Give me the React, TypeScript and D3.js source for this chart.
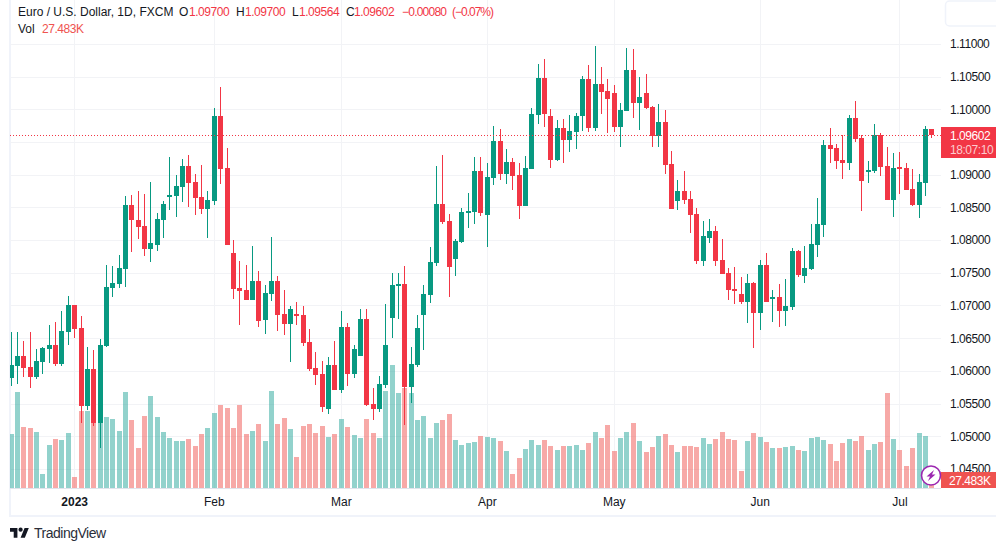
import { useEffect, useRef } from "react";
import * as d3 from "d3";

const WIDTH = 996;
const HEIGHT = 551;
const FONT = "'Liberation Sans', sans-serif";
const UP = "#089981";
const DOWN = "#f23645";
const GRID = "#f2f3f6";
const TEXT = "#131722";
const NUM_SPACING = -0.45;

const opens = [
  1.05892, 1.06075, 1.06228, 1.0606, 1.05907, 1.06136, 1.06335, 1.06396, 1.06106, 1.06595, 1.07008, 1.06656, 1.05463, 1.06029, 1.05204, 1.06381, 1.07268, 1.07329, 1.07558, 1.08537, 1.08307, 1.08216, 1.07864, 1.07925, 1.08307, 1.08659, 1.08674, 1.08812, 1.09133, 1.08888, 1.08659, 1.08476,
  1.08598, 1.09897, 1.09102, 1.07803, 1.07268, 1.07237, 1.07084, 1.07375, 1.06778, 1.07176, 1.07375, 1.0687, 1.06717, 1.0687, 1.06855, 1.06442, 1.06044, 1.05953, 1.05418, 1.0609, 1.05708, 1.06671, 1.05953, 1.06228, 1.06794, 1.05494, 1.05418, 1.05784, 1.06809, 1.07298, 1.07329, 1.05754,
  1.0609, 1.06855, 1.07161, 1.0765, 1.08552, 1.08292, 1.07711, 1.07971, 1.08414, 1.0843, 1.09056, 1.08384, 1.0895, 1.09515, 1.09011, 1.09194, 1.08995, 1.08521, 1.09087, 1.09913, 1.10479, 1.09897, 1.09225, 1.09714, 1.09531, 1.09653, 1.09897, 1.10463, 1.09714, 1.10387, 1.1028, 1.10249,
  1.09729, 1.09974, 1.10601, 1.10097, 1.10249, 1.10035, 1.09592, 1.09806, 1.09163, 1.08598, 1.08751, 1.08628, 1.08399, 1.07681, 1.08032, 1.08139, 1.07696, 1.07497, 1.07252, 1.07176, 1.07054, 1.07344, 1.06885, 1.07619, 1.071, 1.0713, 1.06916, 1.06977, 1.07834, 1.07451, 1.07558, 1.07925,
  1.08231, 1.09454, 1.09408, 1.09225, 1.09179, 1.09867, 1.09561, 1.09041, 1.09056, 1.09607, 1.09133, 1.08613, 1.09118, 1.09102, 1.08781, 1.08537, 1.08873, 1.097,
];

const highs = [
  1.06595, 1.06595, 1.06457, 1.06595, 1.06335, 1.06365, 1.06702, 1.06748, 1.06916, 1.07145, 1.07008, 1.0684, 1.06365, 1.0632, 1.06488, 1.07619, 1.07604, 1.07772, 1.08674, 1.0869, 1.08751, 1.08705, 1.08888, 1.08414, 1.08598, 1.09271, 1.08995, 1.0924, 1.09301, 1.09011, 1.09148, 1.08751,
  1.1002, 1.10341, 1.09408, 1.08002, 1.07681, 1.07619, 1.0791, 1.07528, 1.07314, 1.08048, 1.07451, 1.07237, 1.06992, 1.07054, 1.06992, 1.06641, 1.06289, 1.06151, 1.06213, 1.06457, 1.06916, 1.06733, 1.06396, 1.06947, 1.06947, 1.05739, 1.05922, 1.07023, 1.07497, 1.07497, 1.07604, 1.06365,
  1.06855, 1.07314, 1.07895, 1.09133, 1.09301, 1.08399, 1.08017, 1.08491, 1.0872, 1.09271, 1.09271, 1.09179, 1.09745, 1.09699, 1.09393, 1.09255, 1.09179, 1.09286, 1.1002, 1.10693, 1.10769, 1.10005, 1.09836, 1.09851, 1.09913, 1.09943, 1.10509, 1.10677, 1.10968, 1.10647, 1.10463, 1.10372,
  1.10097, 1.10938, 1.10922, 1.10494, 1.1054, 1.10051, 1.10081, 1.09989, 1.09362, 1.08919, 1.09056, 1.08751, 1.08491, 1.08292, 1.08323, 1.08216, 1.08017, 1.07573, 1.07589, 1.07436, 1.07482, 1.07359, 1.07696, 1.07803, 1.07237, 1.07329, 1.07405, 1.07879, 1.07849, 1.0791, 1.08246, 1.08644,
  1.09531, 1.09714, 1.09469, 1.09607, 1.09913, 1.10127, 1.09607, 1.09209, 1.09775, 1.09638, 1.09424, 1.09332, 1.09347, 1.09179, 1.09087, 1.09011, 1.09745, 1.097,
];

const lows = [
  1.05769, 1.058, 1.05907, 1.05739, 1.05876, 1.05953, 1.06121, 1.06075, 1.06075, 1.06396, 1.06503, 1.05204, 1.05402, 1.05158, 1.04822, 1.06365, 1.0713, 1.07268, 1.07283, 1.07818, 1.08017, 1.07757, 1.07665, 1.07834, 1.08032, 1.0846, 1.08353, 1.08583, 1.08506, 1.08384, 1.08399, 1.08032,
  1.08537, 1.08858, 1.07925, 1.071, 1.06702, 1.07084, 1.07084, 1.06671, 1.06564, 1.07069, 1.0661, 1.06549, 1.06136, 1.06702, 1.06381, 1.05999, 1.05784, 1.05372, 1.05342, 1.05708, 1.05662, 1.05769, 1.05891, 1.06228, 1.05463, 1.0525, 1.05372, 1.05739, 1.06503, 1.06794, 1.05173, 1.05509,
  1.0606, 1.0632, 1.07038, 1.07604, 1.08246, 1.0713, 1.07451, 1.07956, 1.08185, 1.08246, 1.08369, 1.07895, 1.08843, 1.08919, 1.08858, 1.08766, 1.08323, 1.08521, 1.09087, 1.09775, 1.09729, 1.09102, 1.09209, 1.09179, 1.09347, 1.09393, 1.09668, 1.09653, 1.09668, 1.09928, 1.09638, 1.09653,
  1.09424, 1.09974, 1.09867, 1.09684, 1.10005, 1.09424, 1.09424, 1.09011, 1.08476, 1.0846, 1.08552, 1.08109, 1.07635, 1.07604, 1.07956, 1.07604, 1.07482, 1.07084, 1.07023, 1.07023, 1.06733, 1.0635, 1.06626, 1.07054, 1.06748, 1.06671, 1.06687, 1.06931, 1.07436, 1.07344, 1.07543, 1.07742,
  1.08048, 1.09179, 1.09087, 1.08934, 1.09072, 1.095, 1.08445, 1.08873, 1.09026, 1.0898, 1.08613, 1.08353, 1.08705, 1.08766, 1.08521, 1.08338, 1.08674, 1.09564,
];

const closes = [
  1.0609, 1.06228, 1.06044, 1.05907, 1.06151, 1.0635, 1.06396, 1.06106, 1.0661, 1.07008, 1.06641, 1.05463, 1.06029, 1.05204, 1.06396, 1.07283, 1.07344, 1.07573, 1.08537, 1.08307, 1.082, 1.07864, 1.07956, 1.08323, 1.08552, 1.0869, 1.08827, 1.09133, 1.08873, 1.08644, 1.08476, 1.08613,
  1.09897, 1.09087, 1.07925, 1.07252, 1.07222, 1.07084, 1.07375, 1.06763, 1.07191, 1.07375, 1.06855, 1.06717, 1.06947, 1.0684, 1.06427, 1.06029, 1.05937, 1.05448, 1.0609, 1.05708, 1.06671, 1.05953, 1.06335, 1.06794, 1.05479, 1.05418, 1.058, 1.06396, 1.07314, 1.07329, 1.05754, 1.06106,
  1.06656, 1.07176, 1.07665, 1.08552, 1.08277, 1.07589, 1.07986, 1.0843, 1.08445, 1.09056, 1.08414, 1.08965, 1.09515, 1.09011, 1.09194, 1.0898, 1.08521, 1.09102, 1.09928, 1.10479, 1.09928, 1.09225, 1.09714, 1.09531, 1.09668, 1.09897, 1.10463, 1.09714, 1.10387, 1.10265, 1.10157, 1.09729,
  1.09989, 1.10601, 1.10097, 1.10188, 1.1002, 1.09592, 1.09806, 1.09148, 1.08476, 1.08751, 1.08613, 1.08384, 1.07681, 1.08063, 1.08139, 1.07681, 1.07482, 1.07237, 1.07222, 1.07054, 1.07344, 1.06885, 1.07619, 1.07054, 1.0713, 1.06916, 1.06992, 1.07834, 1.07466, 1.07573, 1.07941, 1.08246,
  1.09454, 1.09393, 1.09209, 1.09179, 1.09867, 1.09546, 1.08904, 1.09072, 1.09607, 1.09118, 1.08613, 1.09102, 1.09087, 1.08766, 1.08537, 1.08888, 1.09699, 1.09602,
];

// volume in thousands
const volumes = [
  543, 963, 613, 603, 563, 143, 433, 493, 483, 553, 113, 773, 773, 663, 683, 713, 693, 573, 963, 683, 403, 723, 923, 713, 563, 503, 473, 473, 493, 423, 543, 603,
  753, 833, 803, 603, 833, 543, 573, 643, 473, 973, 643, 703, 593, 313, 623, 643, 553, 623, 513, 543, 693, 613, 533, 503, 693, 553, 503, 973, 1233, 953, 1003, 953,
  683, 723, 503, 653, 683, 743, 483, 433, 453, 463, 523, 513, 503, 473, 373, 143, 303, 393, 483, 433, 483, 423, 383, 423, 423, 433, 383, 453, 563, 503, 633, 373,
  503, 563, 653, 473, 363, 413, 523, 543, 430, 360, 420, 420, 410, 500, 440, 490, 560, 490, 480, 170, 470, 550, 510, 460, 400, 400, 410, 420, 380, 370, 500, 510,
  480, 440, 270, 450, 490, 470, 520, 380, 440, 460, 950, 490, 380, 220, 400, 550, 520, 27.483,
];

const priceTicks = [1.045, 1.05, 1.055, 1.06, 1.065, 1.07, 1.075, 1.08, 1.085, 1.09, 1.095, 1.1, 1.105, 1.11];
// the last price tag covers this one
const hiddenPriceLabel = 1.095;
const timeLabels = ["2023", "Feb", "Mar", "Apr", "May", "Jun", "Jul"];
const timeIndexes = [10, 32, 52, 75, 95, 118, 140];

const legendMain = "Euro / U.S. Dollar, 1D, FXCM";
const lastPrice = 1.09602;
const legendValues = [
  { key: "O", x: 179, text: "1.09700", vx: 189 },
  { key: "H", x: 236, text: "1.09700", vx: 245 },
  { key: "L", x: 292, text: "1.09564", vx: 299 },
  { key: "C", x: 346, text: "1.09602", vx: 354 },
];

const App = () => {
  const ref = useRef<SVGSVGElement | null>(null);

  useEffect(() => {
    const svg = d3.select(ref.current);
    svg.selectAll("*").remove();

    const xScale = d3.scaleLinear().domain([0, 145]).range([11.2, 931.7]);
    const yScale = d3.scaleLinear().domain([1.045, 1.11]).range([469, 43.9]);
    const volScale = d3.scaleLinear().domain([0, 1000]).range([488, 388]);
    const plotLeft = 10;
    const plotRight = 941;
    const plotBottom = 488;
    const text = (sel: any) => sel.attr("font-family", FONT).attr("font-size", 12);
    const num = (sel: any) => sel.call(text).attr("letter-spacing", NUM_SPACING);

    svg.append("rect").attr("width", WIDTH).attr("height", HEIGHT).attr("fill", "#fff");

    svg.append("defs").append("clipPath").attr("id", "plot").append("rect").attr("x", plotLeft).attr("y", 0).attr("width", plotRight - plotLeft).attr("height", plotBottom);

    // frame
    svg.append("rect").attr("x", 9).attr("y", 0).attr("width", 2).attr("height", 517).attr("fill", "#f0f3fa");
    svg.append("rect").attr("x", 9).attr("y", 515).attr("width", WIDTH - 9).attr("height", 2).attr("fill", "#f0f3fa");
    svg.append("rect").attr("x", 945.5).attr("y", 1).attr("width", 60).attr("height", 25).attr("rx", 4).attr("fill", "#fff").attr("stroke", "#f0f3fa").attr("stroke-width", 1.5);

    // grid
    const grid = svg.append("g").attr("shape-rendering", "crispEdges");
    grid
      .selectAll("line.h")
      .data(priceTicks)
      .join("line")
      .attr("class", "h")
      .attr("x1", plotLeft)
      .attr("x2", plotRight)
      .attr("y1", (d) => Math.round(yScale(d)))
      .attr("y2", (d) => Math.round(yScale(d)))
      .attr("stroke", GRID);
    grid
      .selectAll("line.v")
      .data(timeIndexes)
      .join("line")
      .attr("class", "v")
      .attr("x1", (d) => Math.floor(xScale(d)) + 0.5)
      .attr("x2", (d) => Math.floor(xScale(d)) + 0.5)
      .attr("y1", 0)
      .attr("y2", plotBottom)
      .attr("stroke", GRID);

    const plot = svg.append("g").attr("clip-path", "url(#plot)").attr("shape-rendering", "crispEdges");

    // volume bars
    plot
      .selectAll("rect.vol")
      .data(volumes)
      .join("rect")
      .attr("class", "vol")
      .attr("x", (_, i) => Math.floor(xScale(i)) - 2)
      .attr("width", 5)
      .attr("y", (d) => volScale(d))
      .attr("height", (d) => plotBottom - volScale(d))
      .attr("fill", (_, i) => (closes[i] >= opens[i] ? "#26a69a" : "#ef5350"))
      .attr("fill-opacity", 0.5);

    // wicks
    plot
      .selectAll("rect.wick")
      .data(opens)
      .join("rect")
      .attr("class", "wick")
      .attr("x", (_, i) => Math.floor(xScale(i)))
      .attr("width", 1)
      .attr("y", (_, i) => yScale(highs[i]))
      .attr("height", (_, i) => yScale(lows[i]) - yScale(highs[i]))
      .attr("fill", (d, i) => (closes[i] >= d ? UP : DOWN));

    // bodies
    plot
      .selectAll("rect.body")
      .data(opens)
      .join("rect")
      .attr("class", "body")
      .attr("x", (_, i) => Math.floor(xScale(i)) - 2)
      .attr("width", 5)
      .attr("y", (d, i) => yScale(Math.max(d, closes[i])))
      .attr("height", (d, i) => Math.max(1, Math.abs(yScale(d) - yScale(closes[i]))))
      .attr("fill", (d, i) => (closes[i] >= d ? UP : DOWN));

    // last price line
    svg
      .append("line")
      .attr("x1", plotLeft)
      .attr("x2", plotRight)
      .attr("y1", Math.round(yScale(lastPrice)) + 0.5)
      .attr("y2", Math.round(yScale(lastPrice)) + 0.5)
      .attr("stroke", DOWN)
      .attr("stroke-dasharray", "1 2");

    // time axis
    svg.append("rect").attr("x", plotLeft).attr("y", plotBottom).attr("width", plotRight - plotLeft).attr("height", 1).attr("fill", "#e0e3eb");
    svg
      .append("g")
      .selectAll("text")
      .data(timeLabels)
      .join("text")
      .call(text)
      .attr("x", (_, i) => xScale(timeIndexes[i]))
      .attr("y", 506)
      .attr("text-anchor", "middle")
      .attr("fill", TEXT)
      .attr("font-weight", (d) => (d === "2023" ? 700 : 400))
      .text((d) => d);

    // price axis
    const axis = d3
      .axisRight(yScale)
      .tickValues(priceTicks.filter((d) => d !== hiddenPriceLabel))
      .tickFormat((d) => d3.format(".5f")(d as number))
      .tickSize(0)
      .tickPadding(0);
    const axisG = svg.append("g").attr("transform", "translate(950,0)").call(axis);
    axisG.select(".domain").remove();
    axisG.selectAll("text").attr("font-family", FONT).attr("font-size", 12).attr("letter-spacing", NUM_SPACING).attr("fill", TEXT);

    // last price tag
    svg.append("rect").attr("x", plotRight).attr("y", 127).attr("width", WIDTH - plotRight).attr("height", 31).attr("fill", DOWN);
    svg.append("text").call(num).attr("x", 950).attr("y", 140).attr("fill", "#fff").text(d3.format(".5f")(lastPrice));
    svg.append("text").call(num).attr("x", 950).attr("y", 154).attr("fill", "#fff").attr("fill-opacity", 0.75).text("18:07:10");

    // volume tag
    svg.append("rect").attr("x", plotRight).attr("y", 472).attr("width", WIDTH - plotRight).attr("height", 16).attr("fill", "#ef5350");
    svg.append("text").call(num).attr("x", 949).attr("y", 484.5).attr("fill", "#fff").text("27.483K");

    // replay badge
    const badge = svg.append("g").attr("transform", "translate(931,475.5)");
    badge.append("circle").attr("r", 9.5).attr("fill", "#fff").attr("stroke", "#9c27b0").attr("stroke-width", 1.6);
    badge.append("path").attr("d", "M3 -5.5 L-4.5 1 L-1 1 L-3 5.5 L4.5 -1 L1 -1 Z").attr("fill", "#9c27b0");

    // legend
    const legend = svg.append("g");
    legend.append("text").call(text).attr("x", 18).attr("y", 16).attr("fill", TEXT).text(legendMain);
    legendValues.forEach((v) => {
      legend.append("text").call(text).attr("x", v.x).attr("y", 16).attr("fill", TEXT).text(v.key);
      legend.append("text").call(num).attr("x", v.vx).attr("y", 16).attr("fill", DOWN).text(v.text);
    });
    legend.append("text").call(text).attr("x", 402).attr("y", 16).attr("fill", DOWN).attr("textLength", 45).text("−0.00080");
    legend.append("text").call(text).attr("x", 452).attr("y", 16).attr("fill", DOWN).attr("textLength", 42).text("(−0.07%)");
    legend.append("text").call(text).attr("x", 18).attr("y", 33).attr("fill", TEXT).text("Vol");
    legend.append("text").call(num).attr("x", 42).attr("y", 33).attr("fill", "#ef5350").text("27.483K");

    // logo
    const logo = svg.append("g").attr("transform", "translate(10,526) scale(0.53)").attr("fill", TEXT);
    logo.append("path").attr("d", "M14 22H7V11H0V4h14v18zM28 22h-8l7.5-18h8L28 22z");
    logo.append("circle").attr("cx", 20).attr("cy", 7).attr("r", 4);
    svg.append("text").attr("font-family", FONT).attr("font-size", 14).attr("letter-spacing", -0.5).attr("x", 34).attr("y", 538).attr("fill", "#2a2e39").text("TradingView");
  }, []);

  return <svg ref={ref} width={WIDTH} height={HEIGHT} style={{ position: "fixed", left: 0, top: 0 }} />;
};

export default App;
